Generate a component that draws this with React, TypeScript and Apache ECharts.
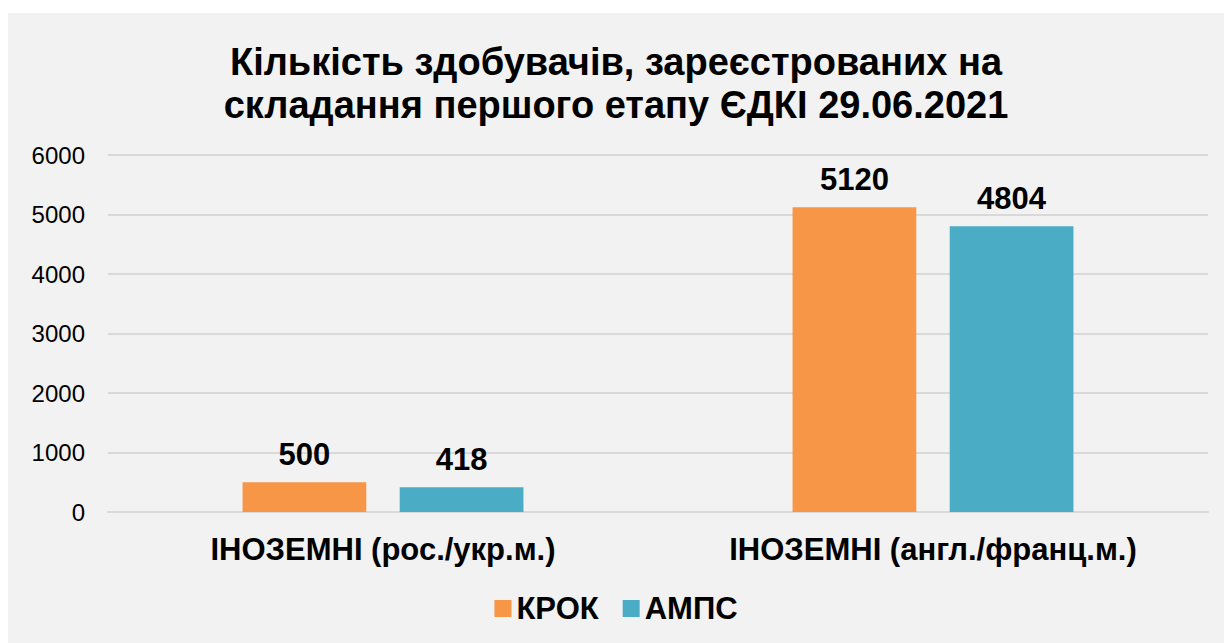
import React, { useEffect, useRef } from "react";
import * as echarts from "echarts";

const titleLines = ["Кількість здобувачів, зареєстрованих на", "складання першого етапу ЄДКІ 29.06.2021"];
const categories = ["ІНОЗЕМНІ (рос./укр.м.)", "ІНОЗЕМНІ (англ./франц.м.)"];
const seriesNames = ["КРОК", "АМПС"];
const krokValues = [500, 5120];
const ampsValues = [418, 4804];
const colors = ["#F79646", "#4BACC6"];

export default function App() {
  const ref = useRef<HTMLDivElement>(null);
  useEffect(() => {
    if (!ref.current) return;
    const chart = echarts.init(ref.current, null, { renderer: "svg" });
    const font = "'Liberation Sans', Arial, sans-serif";
    chart.setOption({
      animation: false,
      backgroundColor: "#F2F2F2",
      textStyle: { fontFamily: font },
      title: {
        text: titleLines.join("\n"),
        left: "center",
        top: 22,
        textStyle: { fontSize: 38, fontWeight: "bold", color: "#000", lineHeight: 43, fontFamily: font },
      },
      legend: {
        bottom: 14,
        left: "center",
        itemWidth: 17,
        itemHeight: 17,
        itemGap: 24,
        icon: "rect",
        textStyle: { fontSize: 31, fontWeight: "bold", color: "#000", fontFamily: font },
        data: seriesNames,
      },
      grid: { left: 100, right: 16, top: 142, bottom: 131, containLabel: false },
      xAxis: {
        type: "category",
        data: categories,
        axisLine: { lineStyle: { color: "#D9D9D9", width: 2 } },
        axisTick: { show: false },
        axisLabel: { fontSize: 31, fontWeight: "bold", color: "#000", margin: 22, fontFamily: font },
      },
      yAxis: {
        type: "value",
        min: 0,
        max: 6000,
        interval: 1000,
        axisLine: { show: false },
        axisTick: { show: false },
        splitLine: { lineStyle: { color: "#D9D9D9", width: 2 } },
        axisLabel: { fontSize: 24, color: "#000", margin: 23, fontFamily: font, formatter: (v: number) => String(v) },
      },
      series: [
        {
          name: seriesNames[0],
          type: "bar",
          data: krokValues,
          barWidth: "22.5%",
          barGap: "27%",
          itemStyle: { color: colors[0] },
          label: { show: true, position: "top", distance: 12, fontSize: 31, fontWeight: "bold", color: "#000", fontFamily: font },
        },
        {
          name: seriesNames[1],
          type: "bar",
          data: ampsValues,
          barWidth: "22.5%",
          itemStyle: { color: colors[1] },
          label: { show: true, position: "top", distance: 12, fontSize: 31, fontWeight: "bold", color: "#000", fontFamily: font },
        },
      ],
    });
    return () => chart.dispose();
  }, []);
  return (
    <div
      ref={ref}
      style={{ position: "absolute", left: 8, top: 13, width: 1216, height: 630 }}
    />
  );
}
